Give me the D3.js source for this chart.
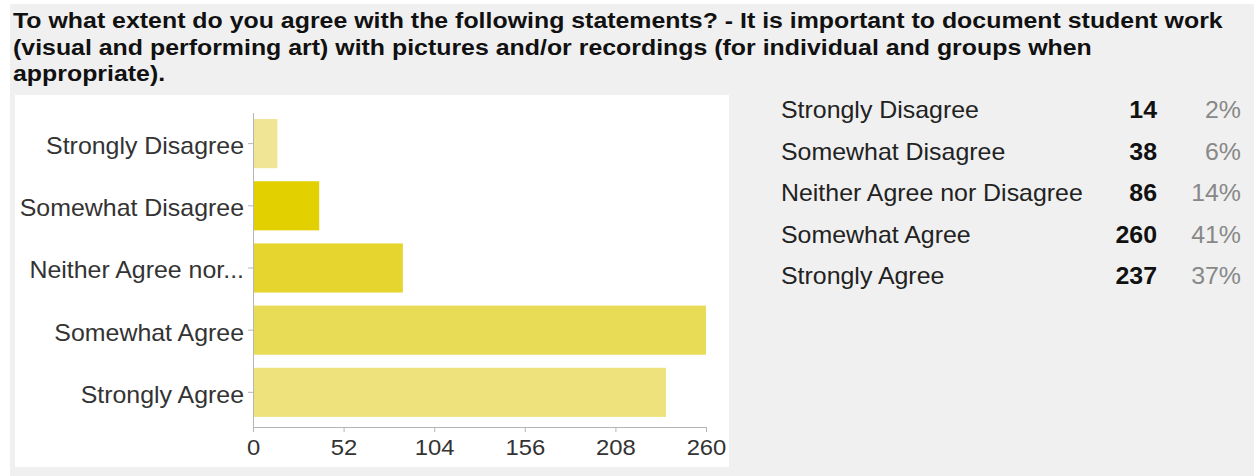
<!DOCTYPE html>
<html>
<head>
<meta charset="utf-8">
<script src="https://cdn.jsdelivr.net/npm/d3@7"></script>
<style>
  html, body { margin: 0; padding: 0; background: #ffffff; }
  svg { display: block; font-family: "Liberation Sans", Arial, Helvetica, sans-serif; }
</style>
</head>
<body>
<svg id="chart" width="1254" height="476"></svg>
<script>
const titleLines = [
  "To what extent do you agree with the following statements? - It is important to document student work",
  "(visual and performing art) with pictures and/or recordings (for individual and groups when",
  "appropriate)."
];
const categories = ["Strongly Disagree", "Somewhat Disagree", "Neither Agree nor Disagree", "Somewhat Agree", "Strongly Agree"];
const axisLabels = ["Strongly Disagree", "Somewhat Disagree", "Neither Agree nor...", "Somewhat Agree", "Strongly Agree"];
const counts = [14, 38, 86, 260, 237];
const percents = ["2%", "6%", "14%", "41%", "37%"];
const barColors = ["#efe594", "#e3d000", "#e6d52e", "#e8dc56", "#ede27c"];
const xTicks = [0, 52, 104, 156, 208, 260];

const SX = 1.083; // horizontal stretch of the reference typography
const svg = d3.select("#chart");

// background
svg.append("rect").attr("x", 10).attr("y", 4).attr("width", 1244).attr("height", 472).attr("fill", "#f0f0f0");
svg.append("rect").attr("x", 15).attr("y", 95).attr("width", 714).attr("height", 372).attr("fill", "#ffffff");

function stretchedText(g, x, y, txt, size, sx) {
  return g.append("text")
    .attr("transform", `translate(${x},${y}) scale(${sx || SX},1)`)
    .attr("font-size", size)
    .text(txt);
}

// title
const title = svg.append("g");
titleLines.forEach((t, i) => {
  stretchedText(title, 13, 28 + i * 26.5, t, 22, SX * 23 / 22)
    .attr("font-weight", "bold").attr("fill", "#111");
});

// scales
const x = d3.scaleLinear().domain([0, 260]).range([253, 706]);
const y = d3.scaleBand().domain(categories).range([113, 427])
  .paddingInner(0.21).paddingOuter(0.13).align(0.375);

// bars
svg.append("g").selectAll("rect").data(categories).join("rect")
  .attr("x", x(0))
  .attr("y", d => y(d))
  .attr("width", (d, i) => x(counts[i]) - x(0))
  .attr("height", y.bandwidth())
  .attr("fill", (d, i) => barColors[i]);

// y axis
const yAxis = d3.axisLeft(y).tickSize(5).tickPadding(3).tickFormat((d, i) => axisLabels[i]);
const gy = svg.append("g").attr("transform", `translate(${x(0)},0)`).call(yAxis);
gy.select(".domain").attr("stroke", "#b5b5b5").attr("d", `M0.5,113V427`);
gy.selectAll(".tick line").attr("stroke", "#b5b5b5");
gy.selectAll(".tick text")
  .attr("font-size", 23).attr("fill", "#333").attr("font-family", "Liberation Sans, Arial, sans-serif")
  .attr("x", -9 / SX).attr("dy", "0.45em")
  .attr("transform", `scale(${SX},1)`);

// x axis
const xAxis = d3.axisBottom(x).tickValues(xTicks).tickSize(5).tickPadding(7).tickSizeOuter(0);
const gx = svg.append("g").attr("transform", `translate(0,427)`).call(xAxis);
gx.select(".domain").attr("stroke", "#b5b5b5");
gx.selectAll(".tick line").attr("stroke", "#b5b5b5");
gx.selectAll(".tick text")
  .attr("font-size", 22).attr("fill", "#333").attr("font-family", "Liberation Sans, Arial, sans-serif")
  .attr("transform", `scale(${SX},1)`);

// table
const rowY = d3.scalePoint().domain(categories).range([110, 276]);
const tbl = svg.append("g");
categories.forEach((c, i) => {
  const yy = rowY(c);
  stretchedText(tbl, 781, yy, c, 23).attr("dy", "0.35em").attr("fill", "#222");
  stretchedText(tbl, 1157, yy, counts[i], 23).attr("dy", "0.35em")
    .attr("text-anchor", "end").attr("font-weight", "bold").attr("fill", "#111");
  stretchedText(tbl, 1241, yy, percents[i], 23).attr("dy", "0.35em")
    .attr("text-anchor", "end").attr("fill", "#888");
});
</script>
</body>
</html>
